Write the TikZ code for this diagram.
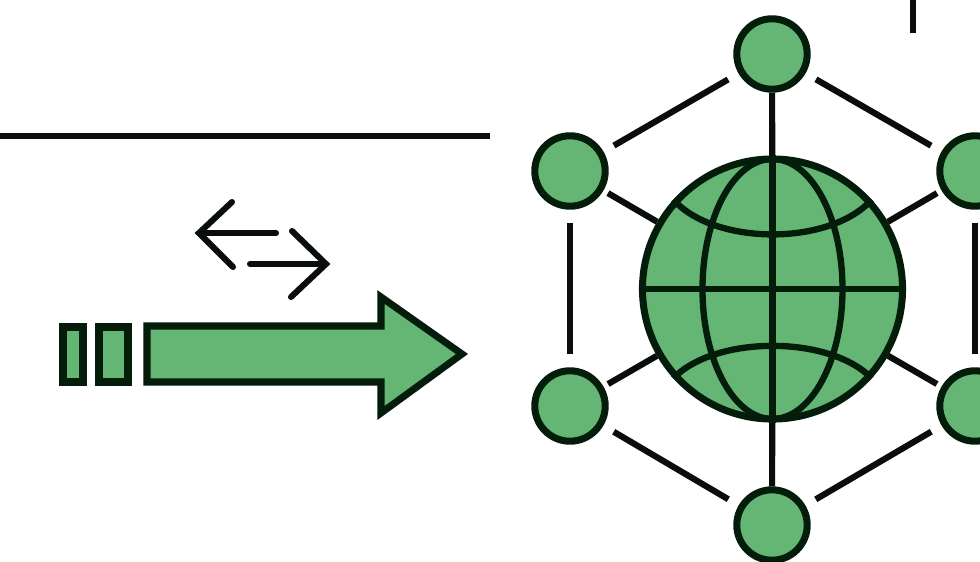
\documentclass[tikz,border=0pt]{standalone}
\definecolor{leaf}{RGB}{101,181,117}
\definecolor{ink}{RGB}{4,28,10}
\definecolor{wire}{RGB}{10,14,10}
\tikzset{
	netdot/.style={circle,minimum size=1.76cm,inner sep=0pt,draw=ink,line width=5pt,fill=leaf},
	ball/.style={circle,minimum size=6.5cm,inner sep=0pt,draw=ink,line width=5pt,fill=leaf},
	grid/.style={draw=ink,line width=4.5pt},
	link/.style={draw=wire,line width=4.4pt,shorten <=#1,shorten >=#1},
	link/.default=0.3cm,
	spoke/.style={draw=wire,line width=4.4pt},
	rule/.style={draw=wire,line width=3.9pt},
	swap/.style={draw=wire,line width=4.3pt,line cap=round,line join=miter},
	block/.style={draw=ink,line width=5pt,fill=leaf,line join=miter}
}
\begin{document}
\begin{tikzpicture}[x=0.025cm,y=-0.025cm]
	\useasboundingbox (0,0) rectangle (980,561);
	\fill[white] (0,0) rectangle (980,561);

	\node [ball] (globe) at (772.5,289) {};
	\node [netdot] (top) at (772,54) {};
	\node [netdot] (bottom) at (772,525) {};
	\node [netdot] (upleft) at (570,171) {};
	\node [netdot] (lowleft) at (570,406) {};
	\node [netdot] (upright) at (975,171) {};
	\node [netdot] (lowright) at (975,406) {};

	\draw [link] (top) -- (upleft);
	\draw [link] (top) -- (upright);
	\draw [link] (bottom) -- (lowleft);
	\draw [link] (bottom) -- (lowright);
	\draw [link=0.33cm] (upleft) -- (lowleft);
	\draw [link=0.33cm] (upright) -- (lowright);

	\draw [spoke] (top) -- (globe);
	\draw [spoke] (bottom) -- (globe);
	\draw [spoke,shorten <=0.13cm] (upleft) -- (globe);
	\draw [spoke,shorten <=0.13cm] (upright) -- (globe);
	\draw [spoke,shorten <=0.13cm] (lowleft) -- (globe);
	\draw [spoke,shorten <=0.13cm] (lowright) -- (globe);

	\draw [grid] (globe.north) -- (globe.south);
	\draw [grid] (globe.west) -- (globe.east);
	\draw [grid] (globe.center) ellipse [x radius=70,y radius=130];
	\draw [grid] (globe.138) .. controls (715,246) and (830,246) .. (globe.42);
	\draw [grid] (globe.222) .. controls (715,335) and (830,335) .. (globe.318);

	\coordinate (ruleA) at (0,136);
	\coordinate (ruleB) at (490,136);
	\coordinate (tickA) at (913,0);
	\coordinate (tickB) at (913,33);
	\draw [rule] (ruleA) -- (ruleB);
	\draw [rule] (tickA) -- (tickB);

	\coordinate (backtip) at (199,233);
	\coordinate (backtail) at (276,233);
	\coordinate (backup) at (232,202);
	\coordinate (backdown) at (233,267);
	\coordinate (foretip) at (326,264);
	\coordinate (foretail) at (250,264);
	\coordinate (foreup) at (292,231);
	\coordinate (foredown) at (291,297);
	\draw [swap] (backtail) -- (backtip);
	\draw [swap] (backup) -- (backtip) -- (backdown);
	\draw [swap] (foretail) -- (foretip);
	\draw [swap] (foreup) -- (foretip) -- (foredown);

	\draw [block] (63,327) rectangle (83,382);
	\draw [block] (99,327) rectangle (128,382);
	\draw [block] (147,326) -- (381,326) -- (381,297) -- (462,354) -- (381,413) -- (381,382) -- (147,382) -- cycle;
\end{tikzpicture}
\end{document}
